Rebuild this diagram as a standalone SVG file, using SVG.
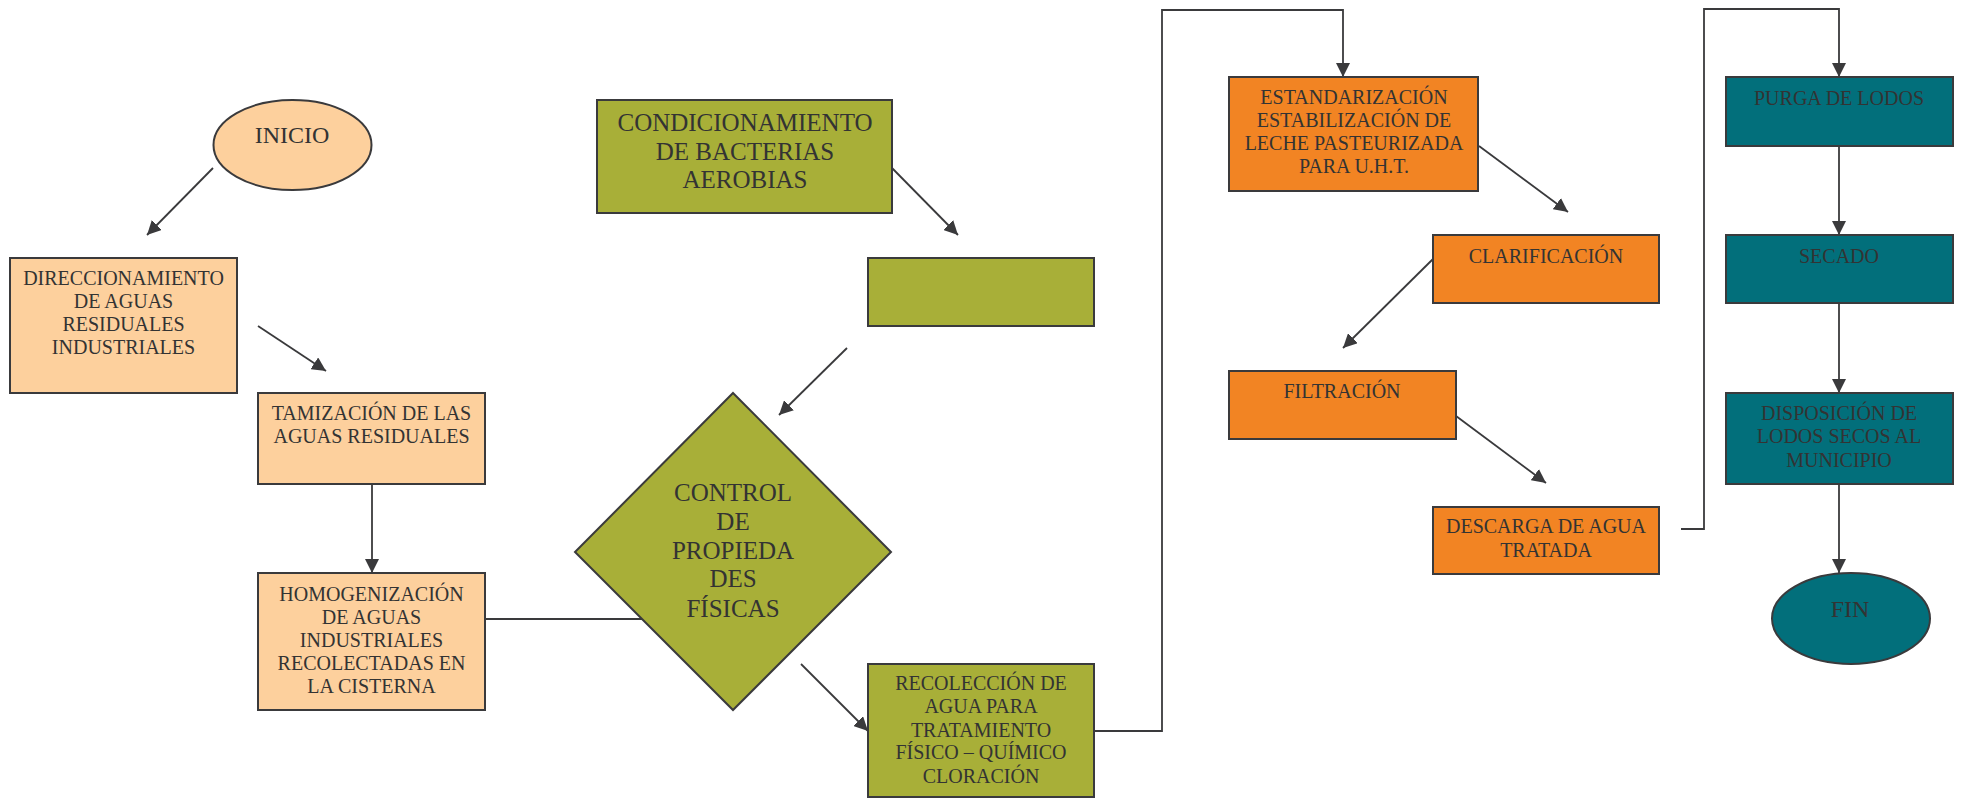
<svg xmlns="http://www.w3.org/2000/svg" width="1963" height="799" viewBox="0 0 1963 799">
<style>
.n{stroke:#3a3a3c;stroke-width:2}
.peach{fill:#FDD09D}
.olive{fill:#A8AF38}
.orange{fill:#F28423}
.teal{fill:#026F7B}
text{font-family:"Liberation Serif","Times New Roman",serif;fill:#333;text-anchor:middle}
.s{font-size:20px}
.l{font-size:24px}
.xl{font-size:25px}
.c{fill:none;stroke:#3a3a3c;stroke-width:1.8}
</style>
<defs>
<marker id="ah" viewBox="0 0 14 14" markerWidth="14" markerHeight="14" refX="14" refY="7" orient="auto" markerUnits="userSpaceOnUse">
<path d="M0,0 L14,7 L0,14 z" fill="#3a3a3c"/>
</marker>
</defs>
<g id="connectors">
<line class="c" x1="213" y1="168" x2="147" y2="235" marker-end="url(#ah)"/>
<line class="c" x1="258" y1="326" x2="326" y2="371" marker-end="url(#ah)"/>
<line class="c" x1="372" y1="484" x2="372" y2="573" marker-end="url(#ah)"/>
<line class="c" x1="485" y1="619" x2="642" y2="619"/>
<line class="c" x1="892" y1="168" x2="958" y2="235" marker-end="url(#ah)"/>
<line class="c" x1="847" y1="348" x2="779" y2="415" marker-end="url(#ah)"/>
<line class="c" x1="801" y1="664" x2="868" y2="731" marker-end="url(#ah)"/>
<polyline class="c" points="1094,731 1162,731 1162,10 1343,10 1343,77" marker-end="url(#ah)"/>
<line class="c" x1="1479" y1="146" x2="1568" y2="212" marker-end="url(#ah)"/>
<line class="c" x1="1433" y1="259" x2="1343" y2="348" marker-end="url(#ah)"/>
<line class="c" x1="1456" y1="416" x2="1546" y2="483" marker-end="url(#ah)"/>
<polyline class="c" points="1681,529 1704,529 1704,9 1839,9 1839,77" marker-end="url(#ah)"/>
<line class="c" x1="1839" y1="146" x2="1839" y2="235" marker-end="url(#ah)"/>
<line class="c" x1="1839" y1="303" x2="1839" y2="393" marker-end="url(#ah)"/>
<line class="c" x1="1839" y1="484" x2="1839" y2="573" marker-end="url(#ah)"/>
</g>
<g id="inicio">
<ellipse class="n peach" cx="292.5" cy="145" rx="79" ry="45"/>
<text class="l" x="292" y="143">INICIO</text>
</g>
<g id="direccionamiento">
<rect class="n peach" x="10" y="258" width="227" height="135"/>
<text class="s" x="123.5" y="285">DIRECCIONAMIENTO</text>
<text class="s" x="123.5" y="308">DE AGUAS</text>
<text class="s" x="123.5" y="331">RESIDUALES</text>
<text class="s" x="123.5" y="354">INDUSTRIALES</text>
</g>
<g id="tamizacion">
<rect class="n peach" x="258" y="393" width="227" height="91"/>
<text class="s" x="371.5" y="420">TAMIZACIÓN DE LAS</text>
<text class="s" x="371.5" y="443">AGUAS RESIDUALES</text>
</g>
<g id="homogenizacion">
<rect class="n peach" x="258" y="573" width="227" height="137"/>
<text class="s" x="371.5" y="601">HOMOGENIZACIÓN</text>
<text class="s" x="371.5" y="624">DE AGUAS</text>
<text class="s" x="371.5" y="647">INDUSTRIALES</text>
<text class="s" x="371.5" y="670">RECOLECTADAS EN</text>
<text class="s" x="371.5" y="693">LA CISTERNA</text>
</g>
<g id="condicionamiento">
<rect class="n olive" x="597" y="100" width="295" height="113"/>
<text class="xl" x="745" y="131">CONDICIONAMIENTO</text>
<text class="xl" x="745" y="160">DE BACTERIAS</text>
<text class="xl" x="745" y="188">AEROBIAS</text>
</g>
<g id="empty-box">
<rect class="n olive" x="868" y="258" width="226" height="68"/>
</g>
<g id="control">
<polygon class="n olive" points="733,393 891,552 733,710 575,552"/>
<text class="xl" x="733" y="501">CONTROL</text>
<text class="xl" x="733" y="530">DE</text>
<text class="xl" x="733" y="559">PROPIEDA</text>
<text class="xl" x="733" y="587">DES</text>
<text class="xl" x="733" y="617">FÍSICAS</text>
</g>
<g id="recoleccion">
<rect class="n olive" x="868" y="664" width="226" height="133"/>
<text class="s" x="981" y="690">RECOLECCIÓN DE</text>
<text class="s" x="981" y="713">AGUA PARA</text>
<text class="s" x="981" y="737">TRATAMIENTO</text>
<text class="s" x="981" y="759">FÍSICO – QUÍMICO</text>
<text class="s" x="981" y="783">CLORACIÓN</text>
</g>
<g id="estandarizacion">
<rect class="n orange" x="1229" y="77" width="249" height="114"/>
<text class="s" x="1354" y="104">ESTANDARIZACIÓN</text>
<text class="s" x="1354" y="127">ESTABILIZACIÓN DE</text>
<text class="s" x="1354" y="150">LECHE PASTEURIZADA</text>
<text class="s" x="1354" y="173">PARA U.H.T.</text>
</g>
<g id="clarificacion">
<rect class="n orange" x="1433" y="235" width="226" height="68"/>
<text class="s" x="1546" y="263">CLARIFICACIÓN</text>
</g>
<g id="filtracion">
<rect class="n orange" x="1229" y="371" width="227" height="68"/>
<text class="s" x="1342" y="398">FILTRACIÓN</text>
</g>
<g id="descarga">
<rect class="n orange" x="1433" y="507" width="226" height="67"/>
<text class="s" x="1546" y="533">DESCARGA DE AGUA</text>
<text class="s" x="1546" y="557">TRATADA</text>
</g>
<g id="purga">
<rect class="n teal" x="1726" y="77" width="227" height="69"/>
<text class="s" x="1839" y="105">PURGA DE LODOS</text>
</g>
<g id="secado">
<rect class="n teal" x="1726" y="235" width="227" height="68"/>
<text class="s" x="1839" y="263">SECADO</text>
</g>
<g id="disposicion">
<rect class="n teal" x="1726" y="393" width="227" height="91"/>
<text class="s" x="1839" y="420">DISPOSICIÓN DE</text>
<text class="s" x="1839" y="443">LODOS SECOS AL</text>
<text class="s" x="1839" y="467">MUNICIPIO</text>
</g>
<g id="fin">
<ellipse class="n teal" cx="1851" cy="618.5" rx="79" ry="45.5"/>
<text class="l" x="1850" y="617">FIN</text>
</g>
</svg>
